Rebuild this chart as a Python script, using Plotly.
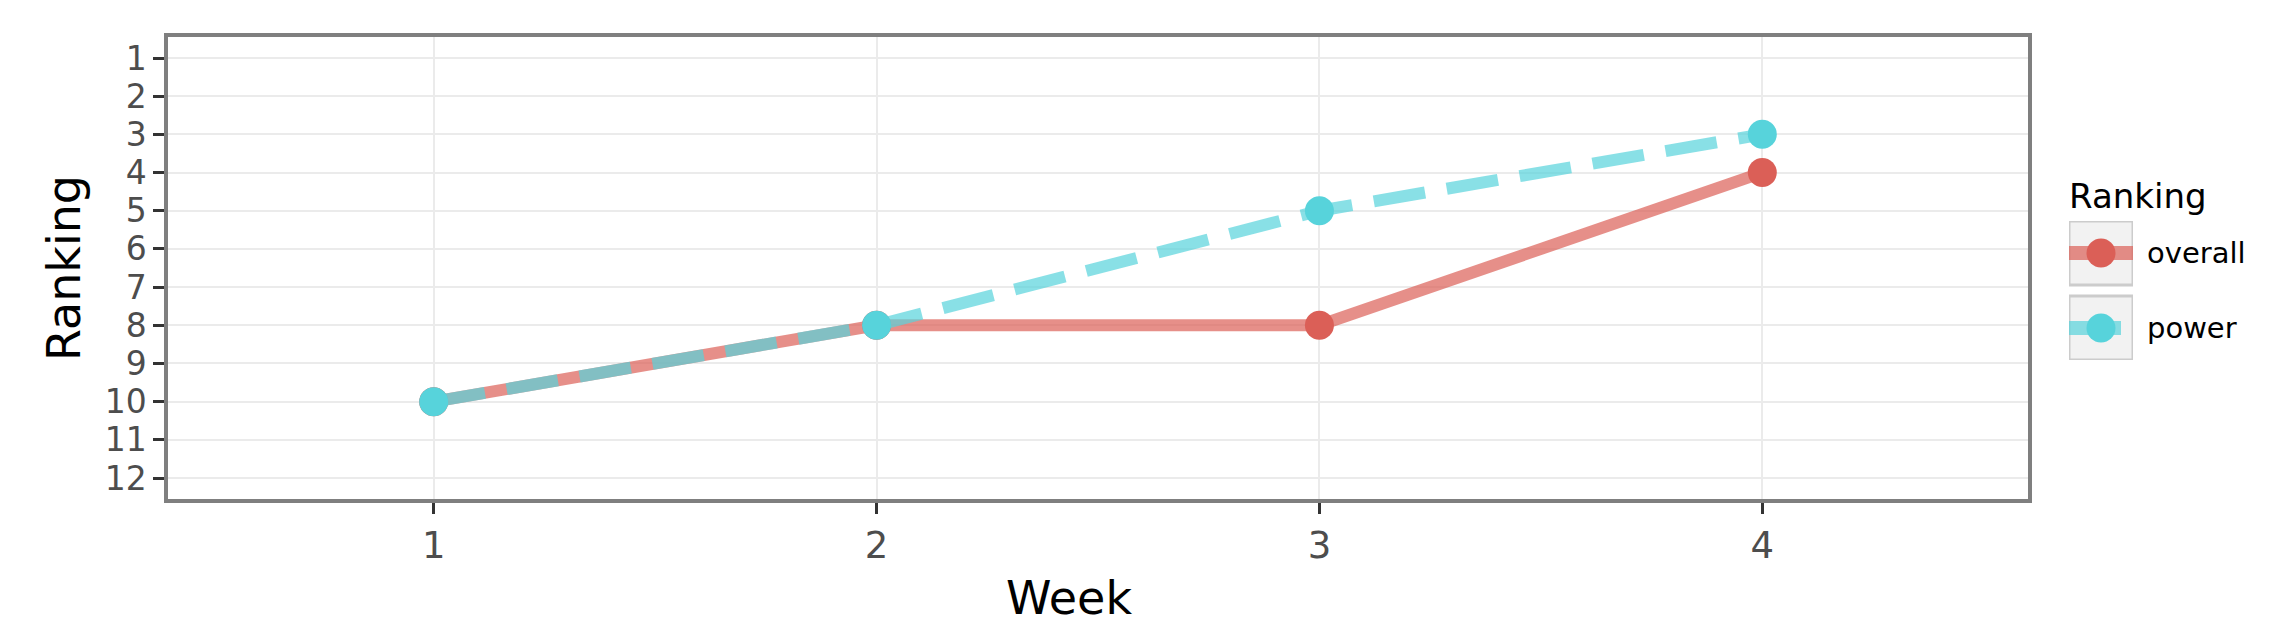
import plotly.graph_objects as go

# ---------------- data ----------------
weeks = [1, 2, 3, 4]
overall_rank = [10, 8, 8, 4]
power_rank = [10, 8, 5, 3]
series_names = ["overall", "power"]
series_colors = ["#db5f57", "#57d3db"]
series_line_rgba = ["rgba(219,95,87,0.7)", "rgba(87,211,219,0.7)"]
series_dash = ["solid", "52px,22px"]
y_ticks = list(range(1, 13))
y_tick_labels = [str(v) for v in y_ticks]
x_ticks = weeks
x_tick_labels = [str(v) for v in weeks]
x_title = "Week"
y_title = "Ranking"
legend_title = "Ranking"

# ---------------- layout geometry (pixels) ----------------
W, H = 2276, 642
PL, PR, PT, PB = 160, 2020, 29, 491        # panel box
LX0, LX1 = 2061, 2125                      # legend key boxes
LY0, LY1 = 213, 352
ROW_GAP = 75
KEY_HALF = 32


def px(x):
    return x / W


def py(y):
    return 1 - y / H


fig = go.Figure()

series_values = [overall_rank, power_rank]
for name, vals, col, lcol, dash in zip(series_names, series_values, series_colors,
                                        series_line_rgba, series_dash):
    fig.add_trace(go.Scatter(
        x=weeks, y=vals, name=name, mode="lines+markers",
        line=dict(color=lcol, width=12, dash=dash),
        marker=dict(color=col, size=29, line=dict(width=0)),
        showlegend=False, hoverinfo="skip",
        xaxis="x", yaxis="y",
    ))

# ---------------- custom legend drawn in a small second axes ----------------
for i, (name, col, lcol, dash) in enumerate(zip(series_names, series_colors,
                                                 series_line_rgba, series_dash)):
    fig.add_shape(type="rect", xref="x2", yref="y2", x0=0, x1=1,
                  y0=i - KEY_HALF / ROW_GAP, y1=i + KEY_HALF / ROW_GAP,
                  fillcolor="#f2f2f2", line=dict(color="#cccccc", width=3),
                  layer="below")
    fig.add_trace(go.Scatter(
        x=[0, 1], y=[i, i], mode="lines",
        line=dict(color=lcol, width=14, dash=dash),
        showlegend=False, hoverinfo="skip", xaxis="x2", yaxis="y2",
    ))
    fig.add_trace(go.Scatter(
        x=[0.5], y=[i], mode="markers",
        marker=dict(color=col, size=29, line=dict(width=0)),
        showlegend=False, hoverinfo="skip", xaxis="x2", yaxis="y2",
    ))
    fig.add_annotation(text=name, xref="paper", yref="y2", x=px(2137), y=i,
                       xanchor="left", yanchor="middle", showarrow=False,
                       font=dict(family="DejaVu Sans", size=29, color="#000000"))

fig.add_annotation(text=legend_title, xref="paper", yref="paper",
                   x=px(2059), y=py(188), xanchor="left", yanchor="middle",
                   showarrow=False,
                   font=dict(family="DejaVu Sans", size=34, color="#000000"))

# axis titles
fig.add_annotation(text=x_title, xref="paper", yref="paper",
                   x=px(1061), y=py(590), xanchor="center", yanchor="middle",
                   showarrow=False,
                   font=dict(family="DejaVu Sans", size=46, color="#000000"))
fig.add_annotation(text=y_title, xref="paper", yref="paper",
                   x=px(56), y=py(260), xanchor="center", yanchor="middle",
                   textangle=-90, showarrow=False,
                   font=dict(family="DejaVu Sans", size=46, color="#000000"))

fig.update_layout(
    width=W, height=H,
    margin=dict(l=0, r=0, t=0, b=0, autoexpand=False),
    paper_bgcolor="white", plot_bgcolor="white",
    showlegend=False,
    xaxis=dict(
        domain=[px(PL), px(PR)], range=[0.4, 4.6],
        tickmode="array", tickvals=x_ticks, ticktext=x_tick_labels,
        showgrid=True, gridcolor="#ebebeb", gridwidth=2, zeroline=False,
        showline=True, linecolor="#7f7f7f", linewidth=3.5, mirror=True,
        ticks="outside", ticklen=11, tickwidth=3, tickcolor="#333333",
        tickfont=dict(family="DejaVu Sans", size=37, color="#4d4d4d"),
        anchor="y",
    ),
    yaxis=dict(
        domain=[py(PB), py(PT)], range=[12.55, 0.45],
        tickmode="array", tickvals=y_ticks, ticktext=y_tick_labels,
        showgrid=True, gridcolor="#ebebeb", gridwidth=2, zeroline=False,
        showline=True, linecolor="#7f7f7f", linewidth=3.5, mirror=True,
        ticks="outside", ticklen=11, tickwidth=3, tickcolor="#333333",
        tickfont=dict(family="DejaVu Sans", size=33, color="#4d4d4d"),
        anchor="x",
    ),
    xaxis2=dict(
        domain=[px(LX0), px(LX1)], range=[0, 1], visible=False,
        showgrid=False, zeroline=False, anchor="y2", fixedrange=True,
    ),
    yaxis2=dict(
        domain=[py(LY1), py(LY0)],
        range=[1 + (LY1 - LY0 - ROW_GAP) / 2 / ROW_GAP,
               -(LY1 - LY0 - ROW_GAP) / 2 / ROW_GAP],
        visible=False, showgrid=False, zeroline=False, anchor="x2", fixedrange=True,
    ),
)

fig.write_html("out.html")
